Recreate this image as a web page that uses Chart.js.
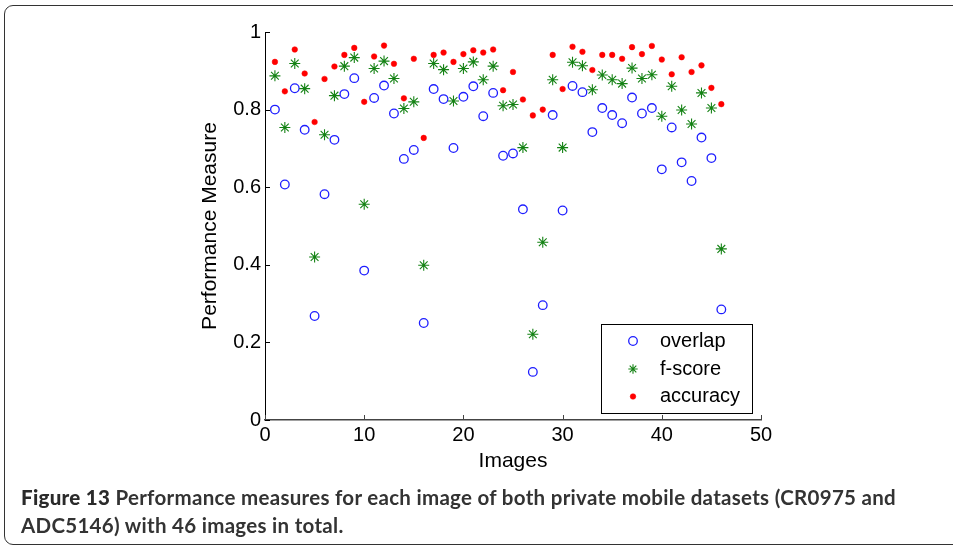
<!DOCTYPE html>
<html>
<head>
<meta charset="utf-8">
<script src="https://cdn.jsdelivr.net/npm/chart.js@4.4.1/dist/chart.umd.min.js"></script>
<style>
  html, body { margin: 0; padding: 0; background: #fff; }
  body { width: 953px; height: 545px; position: relative; overflow: hidden; }
  #frame { position: absolute; left: 4px; top: 5px; width: 1000px; height: 540px;
           border: 1.6px solid #333; border-radius: 9px; box-sizing: border-box; }
  #wrap { position: absolute; left: 0; top: 0; width: 953px; height: 545px; }
  #caption { position: absolute; left: 21px; top: 483px; font-family: Lato, "Open Sans", sans-serif;
             font-size: 20.5px; line-height: 28px; color: #333; font-weight: 700; white-space: nowrap; }
  #caption b { font-weight: 900; color: #2a2a2a; }
</style>
</head>
<body>
<div id="frame"></div>
<div id="wrap"><canvas id="c" width="953" height="545"></canvas></div>
<div id="caption"><span id="l1"><b>Figure 13</b> Performance measures for each image of both private mobile datasets (CR0975 and</span><br><span id="l2">ADC5146) with 46 images in total.</span></div>
<script>
const images = [1,2,3,4,5,6,7,8,9,10,11,12,13,14,15,16,17,18,19,20,21,22,23,24,25,26,27,28,29,30,31,32,33,34,35,36,37,38,39,40,41,42,43,44,45,46];
const overlap = [0.800,0.607,0.855,0.748,0.268,0.582,0.722,0.840,0.881,0.385,0.830,0.862,0.790,0.673,0.696,0.250,0.853,0.827,0.701,0.833,0.860,0.783,0.843,0.681,0.687,0.543,0.124,0.296,0.786,0.540,0.861,0.845,0.742,0.804,0.786,0.765,0.831,0.790,0.804,0.646,0.754,0.664,0.616,0.728,0.675,0.285];
const fscore = [0.887,0.754,0.919,0.854,0.420,0.735,0.836,0.912,0.934,0.556,0.906,0.925,0.880,0.803,0.820,0.399,0.919,0.903,0.822,0.906,0.923,0.877,0.912,0.810,0.813,0.702,0.221,0.458,0.877,0.702,0.922,0.913,0.851,0.889,0.877,0.867,0.907,0.880,0.890,0.783,0.860,0.799,0.763,0.843,0.804,0.441];
const accuracy = [0.923,0.847,0.955,0.893,0.768,0.879,0.911,0.941,0.959,0.820,0.937,0.965,0.918,0.829,0.931,0.727,0.941,0.947,0.923,0.943,0.953,0.947,0.955,0.850,0.897,0.826,0.785,0.800,0.941,0.853,0.962,0.949,0.902,0.941,0.941,0.931,0.961,0.943,0.964,0.929,0.891,0.935,0.897,0.914,0.856,0.814];
const seriesLabels = ["overlap", "f-score", "accuracy"];
const xTickValues = [0,10,20,30,40,50];
const xTickLabels = ["0","10","20","30","40","50"];
const yTickValues = [0,0.2,0.4,0.6,0.8,1];
const yTickLabels = ["0","0.2","0.4","0.6","0.8","1"];

const pts = ys => images.map((x, i) => ({x: x, y: ys[i]}));

const tickFont = {family: '"Liberation Sans", Arial, sans-serif', size: 20};
const titleFont = {family: '"Liberation Sans", Arial, sans-serif', size: 21};

const inwardTicks = {
  id: 'inwardTicks',
  afterDraw(chart) {
    const ctx = chart.ctx, a = chart.chartArea;
    const xs = chart.scales.x, ys = chart.scales.y;
    ctx.save();
    ctx.lineWidth = 1;
    ctx.strokeStyle = '#000';
    yTickValues.forEach(v => {
      const p = Math.round(ys.getPixelForValue(v)) + 0.5;
      ctx.beginPath(); ctx.moveTo(a.left, p); ctx.lineTo(a.left + 5, p); ctx.stroke();
    });
    ctx.strokeStyle = '#444';
    xTickValues.forEach(v => {
      const p = Math.round(xs.getPixelForValue(v)) + 0.5;
      ctx.beginPath(); ctx.moveTo(p, a.bottom); ctx.lineTo(p, a.bottom - 5); ctx.stroke();
    });
    ctx.restore();
  }
};

const boxLegend = {
  id: 'boxLegend',
  afterDraw(chart) {
    const ctx = chart.ctx, a = chart.chartArea;
    const w = 151, h = 89;
    const right = a.right - 9, bottom = a.bottom - 7;
    const left = right - w, top = bottom - h;
    ctx.save();
    ctx.fillStyle = '#fff';
    ctx.fillRect(left, top, w, h);
    ctx.strokeStyle = '#000';
    ctx.lineWidth = 1;
    ctx.strokeRect(Math.round(left) + 0.5, Math.round(top) + 0.5, w, h);
    const rows = [top + 17, top + 45, top + 72.5];
    chart.data.datasets.forEach((ds, i) => {
      ctx.strokeStyle = ds.borderColor;
      ctx.fillStyle = ds.backgroundColor;
      ctx.lineWidth = ds.borderWidth;
      Chart.helpers.drawPoint(ctx, {pointStyle: ds.pointStyle, radius: ds.pointRadius * (i === 1 ? 0.85 : 1), borderWidth: ds.borderWidth, rotation: 0}, left + 32, rows[i]);
      ctx.fillStyle = '#000';
      ctx.font = '20px "Liberation Sans", Arial, sans-serif';
      ctx.textBaseline = 'middle';
      ctx.textAlign = 'left';
      ctx.fillText(ds.label, left + 59, rows[i]);
    });
    ctx.restore();
  }
};

new Chart(document.getElementById('c'), {
  type: 'scatter',
  data: {
    datasets: [
      {label: seriesLabels[0], data: pts(overlap), pointStyle: 'circle', pointRadius: 4.3,
       borderColor: 'rgb(30,30,255)', backgroundColor: 'rgba(0,0,0,0)', borderWidth: 1.3, order: 3},
      {label: seriesLabels[1], data: pts(fscore), pointStyle: 'star', pointRadius: 5.5,
       borderColor: 'rgb(20,130,20)', backgroundColor: 'rgb(20,130,20)', borderWidth: 1.1, order: 2},
      {label: seriesLabels[2], data: pts(accuracy), pointStyle: 'circle', pointRadius: 2.8,
       borderColor: 'rgb(255,0,0)', backgroundColor: 'rgb(255,0,0)', borderWidth: 0.5, order: 1}
    ]
  },
  options: {
    responsive: false,
    animation: false,
    events: [],
    layout: {padding: {left: 194, right: 192, top: 32, bottom: 71}},
    plugins: {legend: {display: false}, tooltip: {enabled: false}},
    scales: {
      x: {
        type: 'linear', min: 0, max: 50,
        afterBuildTicks: s => { s.ticks = xTickValues.map(v => ({value: v})); },
        afterFit: s => { s.height = 54; },
        ticks: {font: tickFont, color: '#000', padding: 3, maxRotation: 0,
                callback: (v) => xTickLabels[xTickValues.indexOf(v)]},
        grid: {drawOnChartArea: false, drawTicks: false},
        border: {display: true, color: '#444', width: 1.5},
        title: {display: true, text: 'Images', font: titleFont, color: '#000', padding: {top: 0, bottom: 0}}
      },
      y: {
        type: 'linear', min: 0, max: 1,
        afterBuildTicks: s => { s.ticks = yTickValues.map(v => ({value: v})); },
        afterFit: s => { s.width = 71; },
        ticks: {font: tickFont, color: '#000', padding: 4,
                callback: (v) => yTickLabels[yTickValues.indexOf(v)]},
        grid: {drawOnChartArea: false, drawTicks: false},
        border: {display: true, color: '#000', width: 1},
        title: {display: true, text: 'Performance Measure', font: titleFont, color: '#000', padding: {top: 4, bottom: 0}}
      }
    }
  },
  plugins: [inwardTicks, boxLegend]
});

// fit caption line 1 to the reference width
(function fit() {
  const l1 = document.getElementById('l1');
  const target = 875;
  const w = l1.getBoundingClientRect().width;
  const chars = l1.textContent.length;
  const ls = (target - w) / chars;
  document.getElementById('caption').style.letterSpacing = ls.toFixed(3) + 'px';
})();
</script>
</body>
</html>
